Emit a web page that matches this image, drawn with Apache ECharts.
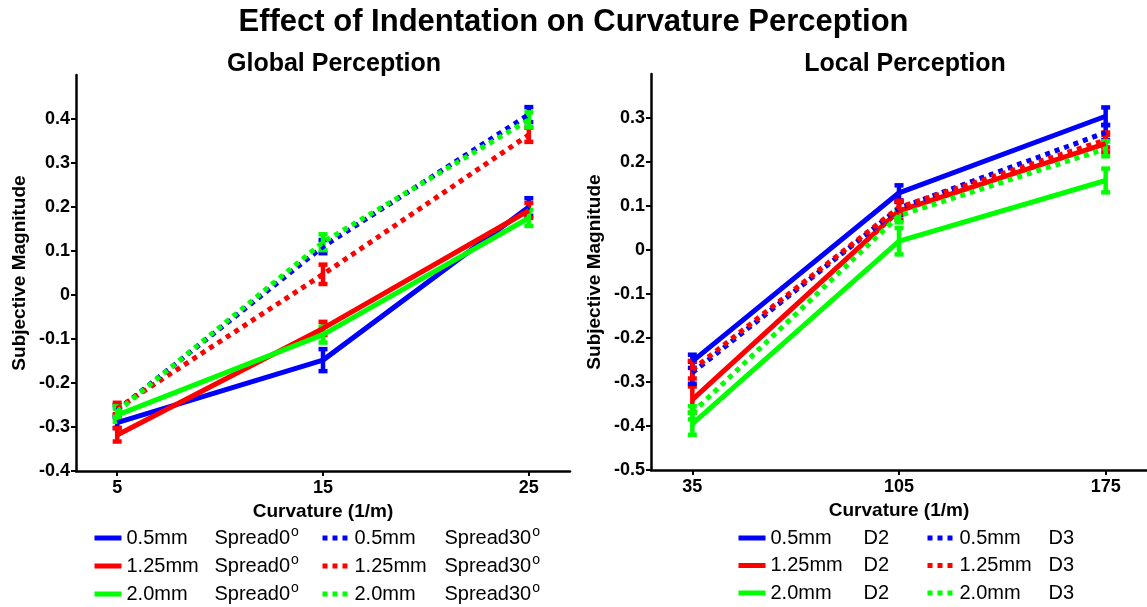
<!DOCTYPE html>
<html>
<head>
<meta charset="utf-8">
<title>Effect of Indentation on Curvature Perception</title>
<script src="https://cdn.jsdelivr.net/npm/echarts@6/dist/echarts.min.js"></script>
<style>
  html, body { margin: 0; padding: 0; background: #fff; }
  #chart { width: 1147px; height: 607px; }
</style>
</head>
<body>
<div id="chart"></div>
<script>
// Curvature levels (1/m) for each panel
const CURV_GLOBAL = [5, 15, 25];
const CURV_LOCAL = [35, 105, 175];

// Axis tick values
const GLOBAL_X_TICKS = [5, 15, 25];
const LOCAL_X_TICKS = [35, 105, 175];

// Indentation sizes and conditions
const SIZES = ['0.5mm', '1.25mm', '2.0mm'];
const GLOBAL_CONDS = ['Spread0', 'Spread30'];
const LOCAL_CONDS = ['D2', 'D3'];
const COLORS = ['#0000ff', '#ff0000', '#00ff00'];

// Global perception: mean subjective magnitude and error
const G_05_S0 = [-0.290, -0.148, 0.200];
const G_125_S0 = [-0.318, -0.076, 0.192];
const G_20_S0 = [-0.273, -0.090, 0.175];
const G_05_S30 = [-0.262, 0.110, 0.410];
const G_125_S30 = [-0.258, 0.047, 0.364];
const G_20_S30 = [-0.265, 0.120, 0.398];

const G_05_S0_ERR = [0.012, 0.025, 0.020];
const G_125_S0_ERR = [0.015, 0.015, 0.017];
const G_20_S0_ERR = [0.015, 0.018, 0.018];
const G_05_S30_ERR = [0.012, 0.015, 0.017];
const G_125_S30_ERR = [0.013, 0.022, 0.016];
const G_20_S30_ERR = [0.012, 0.018, 0.017];

// Local perception: mean subjective magnitude and error
const L_05_D2 = [-0.253, 0.130, 0.304];
const L_125_D2 = [-0.340, 0.089, 0.242];
const L_20_D2 = [-0.395, 0.020, 0.158];
const L_05_D3 = [-0.279, 0.095, 0.267];
const L_125_D3 = [-0.272, 0.097, 0.250];
const L_20_D3 = [-0.370, 0.078, 0.230];

const L_05_D2_ERR = [0.015, 0.017, 0.020];
const L_125_D2_ERR = [0.030, 0.020, 0.020];
const L_20_D2_ERR = [0.025, 0.030, 0.027];
const L_05_D3_ERR = [0.025, 0.015, 0.017];
const L_125_D3_ERR = [0.020, 0.015, 0.017];
const L_20_D3_ERR = [0.015, 0.015, 0.017];

const FONT = '"Liberation Sans", Arial, Helvetica, sans-serif';
const LINE_W = 5;
const DOT_DASH = [5, 5];

function pairs(xs, ys) { return xs.map((x, i) => [x, ys[i]]); }
function bars(xs, ys, es) { return xs.map((x, i) => [x, ys[i] - es[i], ys[i] + es[i]]); }

function lineSeries(name, axisIdx, xs, ys, color, dotted) {
  return {
    type: 'line', name: name, xAxisIndex: axisIdx, yAxisIndex: axisIdx,
    data: pairs(xs, ys), symbol: 'none', showSymbol: false, animation: false,
    color: color,
    lineStyle: { color: color, width: LINE_W, type: dotted ? DOT_DASH : 'solid', cap: 'butt' },
    itemStyle: { color: color }
  };
}

// Vertical error bar with caps, drawn through the axis scales
function errSeries(axisIdx, xs, ys, es, color) {
  return {
    type: 'custom', xAxisIndex: axisIdx, yAxisIndex: axisIdx, animation: false,
    data: bars(xs, ys, es), silent: true,
    encode: { x: 0, y: [1, 2] },
    renderItem: function (params, api) {
      const x = api.value(0);
      const lo = api.coord([x, api.value(1)]);
      const hi = api.coord([x, api.value(2)]);
      const cw = 4.5;
      const st = { stroke: color, lineWidth: 4.5 };
      return {
        type: 'group',
        children: [
          { type: 'line', shape: { x1: lo[0], y1: lo[1], x2: hi[0], y2: hi[1] }, style: st },
          { type: 'line', shape: { x1: lo[0] - cw, y1: lo[1], x2: lo[0] + cw, y2: lo[1] }, style: st },
          { type: 'line', shape: { x1: hi[0] - cw, y1: hi[1], x2: hi[0] + cw, y2: hi[1] }, style: st }
        ]
      };
    }
  };
}

const gMeans = [[G_05_S0, G_125_S0, G_20_S0], [G_05_S30, G_125_S30, G_20_S30]];
const gErrs = [[G_05_S0_ERR, G_125_S0_ERR, G_20_S0_ERR], [G_05_S30_ERR, G_125_S30_ERR, G_20_S30_ERR]];
const lMeans = [[L_05_D2, L_125_D2, L_20_D2], [L_05_D3, L_125_D3, L_20_D3]];
const lErrs = [[L_05_D2_ERR, L_125_D2_ERR, L_20_D2_ERR], [L_05_D3_ERR, L_125_D3_ERR, L_20_D3_ERR]];

const series = [];
const legendNames = { g: [[], []], l: [[], []] };
for (let c = 0; c < 2; c++) {
  for (let s = 0; s < 3; s++) {
    const gName = SIZES[s] + ' ' + GLOBAL_CONDS[c];
    legendNames.g[c].push(gName);
    series.push(lineSeries(gName, 0, CURV_GLOBAL, gMeans[c][s], COLORS[s], c === 1));
    series.push(errSeries(0, CURV_GLOBAL, gMeans[c][s], gErrs[c][s], COLORS[s]));
  }
}
for (let c = 0; c < 2; c++) {
  for (let s = 0; s < 3; s++) {
    const lName = SIZES[s] + ' ' + LOCAL_CONDS[c];
    legendNames.l[c].push(lName);
    series.push(lineSeries(lName, 1, CURV_LOCAL, lMeans[c][s], COLORS[s], c === 1));
    series.push(errSeries(1, CURV_LOCAL, lMeans[c][s], lErrs[c][s], COLORS[s]));
  }
}

// "Spread" conditions carry a degree mark written as a superscript o
function legendFormatter(name) {
  const parts = name.split(' ');
  const sup = parts[1].indexOf('Spread') === 0 ? '{s|o}' : '';
  return '{a|' + parts[0] + '}{b|' + parts[1] + '}' + sup;
}

function makeLegend(names, left, top, gap, sizeWidth) {
  return {
    data: names, orient: 'vertical', left: left, top: top, height: 100, padding: 0,
    itemWidth: 27, itemHeight: 20, itemGap: gap, selectedMode: false,
    itemStyle: { opacity: 0, borderWidth: 0 },
    lineStyle: { width: LINE_W, cap: 'butt' },
    formatter: legendFormatter,
    textStyle: {
      color: '#000', fontFamily: FONT, fontSize: 20, lineHeight: 20,
      rich: {
        a: { width: sizeWidth, fontSize: 20, fontFamily: FONT, color: '#000', lineHeight: 20 },
        b: { fontSize: 20, fontFamily: FONT, color: '#000', lineHeight: 20 },
        s: { fontSize: 14, fontFamily: FONT, color: '#000', lineHeight: 8, padding: [0, 0, 12, 1] }
      }
    }
  };
}

const axisLineStyle = { show: true, onZero: false, lineStyle: { color: '#000', width: 2.5 } };
const tickStyle = { show: true, inside: false, length: 5, lineStyle: { color: '#000', width: 2 } };
const labelStyle = { color: '#000', fontFamily: FONT, fontWeight: 'bold', fontSize: 18 };
const nameStyle = { color: '#000', fontFamily: FONT, fontWeight: 'bold', fontSize: 19 };

function xAxis(idx, min, max, ticks) {
  return {
    type: 'value', gridIndex: idx, min: min, max: max,
    name: 'Curvature (1/m)', nameLocation: 'middle', nameGap: 14, nameTextStyle: nameStyle,
    axisLine: axisLineStyle,
    axisTick: Object.assign({}, tickStyle, { customValues: ticks }),
    axisLabel: Object.assign({}, labelStyle, { customValues: ticks, margin: 8 }),
    splitLine: { show: false }
  };
}

function yAxis(idx, min, max) {
  return {
    type: 'value', gridIndex: idx, min: min, max: max, interval: 0.1,
    name: 'Subjective Magnitude', nameLocation: 'middle', nameGap: 47, nameTextStyle: nameStyle,
    axisLine: axisLineStyle, axisTick: tickStyle,
    axisLabel: Object.assign({}, labelStyle, { margin: 6, showMaxLabel: false,
      formatter: v => String(Math.round(v * 10) / 10) }),
    splitLine: { show: false }
  };
}

const chart = echarts.init(document.getElementById('chart'), null, { renderer: 'canvas' });
chart.setOption({
  backgroundColor: '#fff',
  animation: false,
  title: [
    { text: 'Effect of Indentation on Curvature Perception', left: 'center', top: 7, padding: 0,
      textStyle: { color: '#000', fontFamily: FONT, fontWeight: 'bold', fontSize: 31 } },
    { text: 'Global Perception', left: 334, textAlign: 'center', top: 52, padding: 0,
      textStyle: { color: '#000', fontFamily: FONT, fontWeight: 'bold', fontSize: 25 } },
    { text: 'Local Perception', left: 905, textAlign: 'center', top: 52, padding: 0,
      textStyle: { color: '#000', fontFamily: FONT, fontWeight: 'bold', fontSize: 25 } }
  ],
  grid: [
    { left: 76, right: 577, top: 75, bottom: 136 },
    { left: 651, right: -19, top: 74, bottom: 137 }
  ],
  xAxis: [xAxis(0, 3, 27, GLOBAL_X_TICKS), xAxis(1, 21, 189, LOCAL_X_TICKS)],
  yAxis: [yAxis(0, -0.4, 0.5), yAxis(1, -0.5, 0.4)],
  legend: [
    makeLegend(legendNames.g[0], 92, 525, 2, 88),
    makeLegend(legendNames.g[1], 320, 525, 2, 90),
    makeLegend(legendNames.l[0], 736, 528, 7.5, 93),
    makeLegend(legendNames.l[1], 925, 528, 7.5, 89)
  ],
  series: series
});
</script>
</body>
</html>
